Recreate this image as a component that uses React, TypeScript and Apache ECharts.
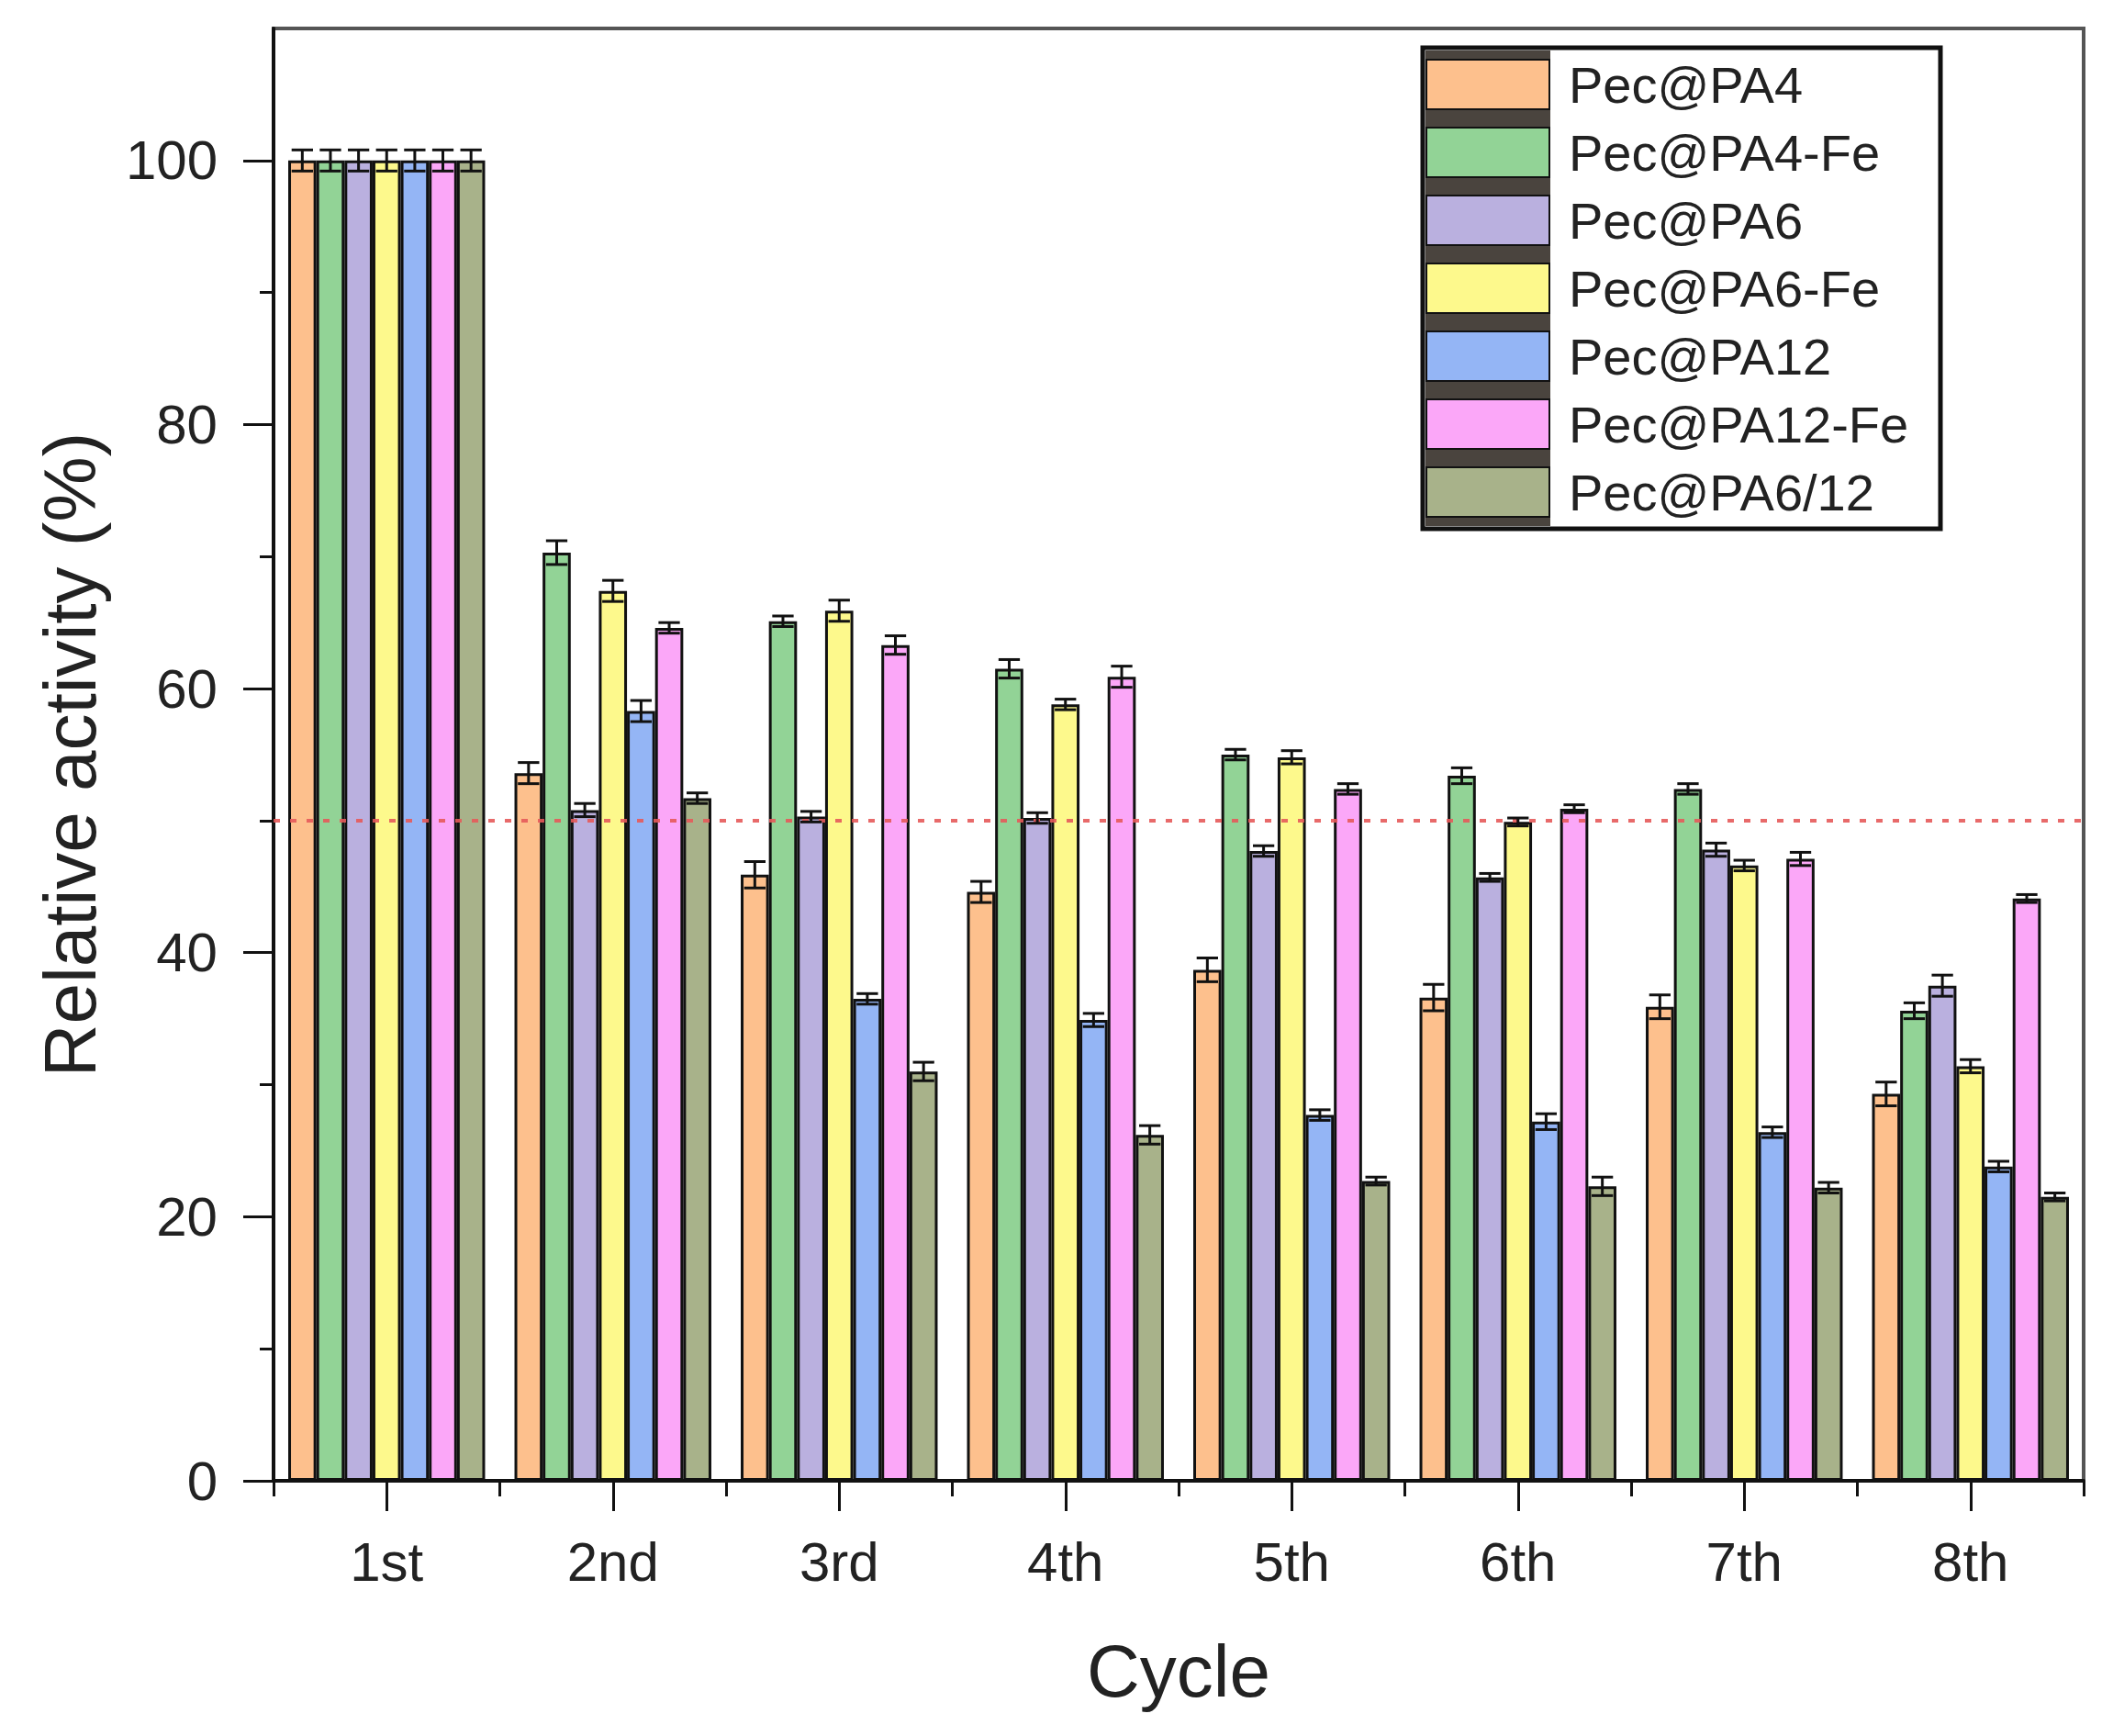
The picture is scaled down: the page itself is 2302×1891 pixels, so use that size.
import { useEffect, useRef } from 'react';
import * as echarts from 'echarts';

const CYCLES = ['1st', '2nd', '3rd', '4th', '5th', '6th', '7th', '8th'];

const SERIES_NAMES = [
  'Pec@PA4',
  'Pec@PA4-Fe',
  'Pec@PA6',
  'Pec@PA6-Fe',
  'Pec@PA12',
  'Pec@PA12-Fe',
  'Pec@PA6/12',
];

const COLORS = ['#fdc08d', '#92d396', '#bab0df', '#fdf98c', '#94b5f5', '#fba7f8', '#a8b28a'];

// mean relative activity (%) per cycle
const PA4 = [100, 53.6, 45.9, 44.6, 38.7, 36.6, 35.9, 29.3];
const PA4_FE = [100, 70.3, 65.1, 61.5, 55.0, 53.4, 52.4, 35.6];
const PA6 = [100, 50.8, 50.3, 50.2, 47.7, 45.7, 47.8, 37.5];
const PA6_FE = [100, 67.4, 65.9, 58.8, 54.8, 49.9, 46.6, 31.4];
const PA12 = [100, 58.3, 36.5, 34.9, 27.7, 27.2, 26.4, 23.8];
const PA12_FE = [100, 64.6, 63.3, 60.9, 52.4, 50.9, 47.1, 44.1];
const PA6_12 = [100, 51.7, 31.0, 26.2, 22.7, 22.3, 22.2, 21.5];

// error bars (±)
const PA4_ERR = [0.8, 0.8, 1.0, 0.8, 0.9, 1.0, 0.9, 0.9];
const PA4_FE_ERR = [0.8, 0.9, 0.4, 0.7, 0.4, 0.6, 0.4, 0.6];
const PA6_ERR = [0.8, 0.5, 0.4, 0.4, 0.4, 0.3, 0.5, 0.8];
const PA6_FE_ERR = [0.8, 0.8, 0.8, 0.4, 0.5, 0.3, 0.4, 0.5];
const PA12_ERR = [0.8, 0.8, 0.4, 0.5, 0.4, 0.6, 0.4, 0.4];
const PA12_FE_ERR = [0.8, 0.4, 0.7, 0.8, 0.4, 0.3, 0.5, 0.3];
const PA6_12_ERR = [0.8, 0.4, 0.7, 0.7, 0.3, 0.7, 0.4, 0.3];

const VALUES = [PA4, PA4_FE, PA6, PA6_FE, PA12, PA12_FE, PA6_12];
const ERRORS = [PA4_ERR, PA4_FE_ERR, PA6_ERR, PA6_FE_ERR, PA12_ERR, PA12_FE_ERR, PA6_12_ERR];

const Y_MAJOR = [0, 20, 40, 60, 80, 100];
const Y_MINOR = [10, 30, 50, 70, 90];
const HALF_LINE = 50;

const CAT_GAP = 0.13;
const FONT = '"Liberation Sans", Arial, sans-serif';

export default function App() {
  const ref = useRef<HTMLDivElement>(null);

  useEffect(() => {
    if (!ref.current) return;
    document.body.style.margin = '0';
    const chart = echarts.init(ref.current, undefined, { renderer: 'svg' });
    const n = SERIES_NAMES.length;

    const errData: number[][] = [];
    VALUES.forEach((vals, s) => {
      vals.forEach((v, c) => {
        errData.push([c, s, v - ERRORS[s][c], v + ERRORS[s][c]]);
      });
    });

    const barSeries: any[] = SERIES_NAMES.map((name, s) => ({
      name,
      type: 'bar',
      data: VALUES[s],
      barGap: '0%',
      barCategoryGap: `${CAT_GAP * 100}%`,
      itemStyle: { color: COLORS[s], borderColor: '#111', borderWidth: 3 },
      markLine:
        s === 0
          ? {
              silent: true,
              symbol: 'none',
              label: { show: false },
              lineStyle: { type: [7, 11], color: '#e65a5a', width: 4, opacity: 0.9 },
              data: [{ yAxis: HALF_LINE }],
            }
          : undefined,
    }));

    chart.setOption({
      animation: false,
      backgroundColor: '#fff',
      textStyle: { fontFamily: FONT },
      grid: {
        left: 298,
        right: 32,
        top: 31,
        bottom: 278,
        show: true,
        borderColor: '#555',
        borderWidth: 4,
        backgroundColor: 'transparent',
      },
      graphic: [
        {
          type: 'rect',
          shape: { x: 1550, y: 52, width: 564, height: 524 },
          style: { fill: '#fff', stroke: '#111', lineWidth: 5 },
          z: 0,
        },
        {
          type: 'rect',
          shape: { x: 1553, y: 55, width: 136, height: 518 },
          style: { fill: '#4a443e' },
          z: 1,
        },
      ],
      legend: {
        orient: 'vertical',
        left: 1553,
        top: 64,
        padding: 0,
        itemWidth: 134,
        itemHeight: 54,
        itemGap: 18,
        icon: 'rect',
        z: 5,
        textStyle: {
          fontFamily: FONT,
          fontSize: 56,
          color: '#222',
          lineHeight: 48,
          padding: [0, 0, 6, 16],
        },
        data: SERIES_NAMES,
      },
      xAxis: [
        {
          type: 'category',
          data: CYCLES,
          position: 'bottom',
          boundaryGap: true,
          name: 'Cycle',
          nameLocation: 'middle',
          nameGap: 167,
          nameTextStyle: { fontFamily: FONT, fontSize: 80, color: '#222' },
          axisLine: { show: true, lineStyle: { color: '#111', width: 4 } },
          axisTick: { show: true, alignWithLabel: true, length: 33, lineStyle: { color: '#111', width: 3 } },
          axisLabel: { fontFamily: FONT, fontSize: 60, color: '#222', margin: 58 },
          splitLine: { show: false },
        },
        {
          type: 'value',
          position: 'bottom',
          min: 0,
          max: CYCLES.length,
          interval: 1,
          axisLine: { show: false },
          axisTick: { show: true, length: 17, lineStyle: { color: '#111', width: 3 } },
          axisLabel: { show: false },
          splitLine: { show: false },
        },
      ],
      yAxis: [
        {
          type: 'value',
          position: 'left',
          min: 0,
          max: 110,
          interval: 20,
          name: 'Relative activity (%)',
          nameLocation: 'middle',
          nameGap: 182,
          nameRotate: 90,
          nameTextStyle: { fontFamily: FONT, fontSize: 80, color: '#222' },
          axisLine: { show: true, lineStyle: { color: '#111', width: 4 } },
          axisTick: { show: true, length: 33, customValues: Y_MAJOR, lineStyle: { color: '#111', width: 3 } },
          axisLabel: {
            fontFamily: FONT,
            fontSize: 60,
            color: '#222',
            margin: 61,
            customValues: Y_MAJOR,
          },
          splitLine: { show: false },
        },
        {
          type: 'value',
          position: 'left',
          min: 0,
          max: 110,
          interval: 10,
          axisLine: { show: false },
          axisTick: { show: true, length: 15, customValues: Y_MINOR, lineStyle: { color: '#111', width: 3 } },
          axisLabel: { show: false, customValues: Y_MINOR },
          splitLine: { show: false },
        },
      ],
      series: [
        ...barSeries,
        {
          type: 'custom',
          name: 'error',
          xAxisIndex: 0,
          yAxisIndex: 0,
          z: 10,
          clip: false,
          data: errData,
          encode: { x: 0, y: [2, 3] },
          renderItem: (_params: any, api: any) => {
            const cat = api.value(0);
            const s = api.value(1);
            const lo = api.coord([cat, api.value(2)]);
            const hi = api.coord([cat, api.value(3)]);
            const band = api.size([1, 0])[0];
            const groupW = band * (1 - CAT_GAP);
            const bw = groupW / n;
            const x = lo[0] - groupW / 2 + bw * (s + 0.5);
            const half = bw * 0.38;
            const style = { stroke: '#111', lineWidth: 3 };
            return {
              type: 'group',
              children: [
                { type: 'line', shape: { x1: x, y1: lo[1], x2: x, y2: hi[1] }, style },
                { type: 'line', shape: { x1: x - half, y1: hi[1], x2: x + half, y2: hi[1] }, style },
                { type: 'line', shape: { x1: x - half, y1: lo[1], x2: x + half, y2: lo[1] }, style },
              ],
            };
          },
        },
      ],
    });

    return () => {
      chart.dispose();
    };
  }, []);

  return (
    <div
      ref={ref}
      style={{ position: 'absolute', left: 0, top: 0, width: 2302, height: 1891 }}
    />
  );
}
